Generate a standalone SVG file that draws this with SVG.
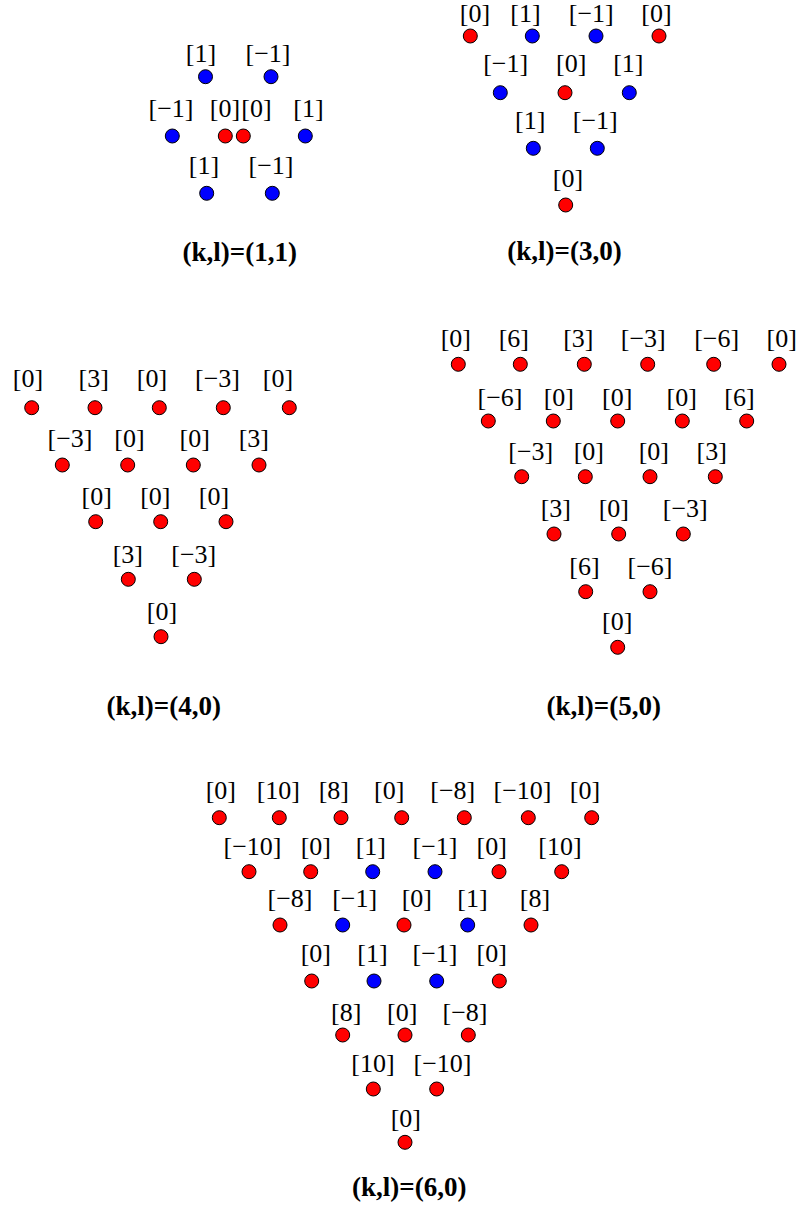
<svg xmlns="http://www.w3.org/2000/svg" width="799" height="1207" viewBox="0 0 799 1207">
<style>
text{font-family:"Liberation Serif","Times New Roman",serif;font-size:26px;text-anchor:middle;fill:#000}
.t{font-weight:bold;font-size:27px}
.r{fill:#ff0000;stroke:#000;stroke-width:1}
.b{fill:#0000ff;stroke:#000;stroke-width:1}
</style>
<rect width="799" height="1207" fill="#fff"/>
<g id="connectors"/>
<g id="panel-1-1">
<text x="201" y="62">[1]</text><text x="268" y="62">[−1]</text>
<circle class="b" cx="205.5" cy="76.7" r="7"/><circle class="b" cx="271" cy="76.7" r="7"/>
<text x="171" y="117">[−1]</text><text x="225" y="117">[0]</text><text x="256.5" y="117">[0]</text><text x="308.5" y="117">[1]</text>
<circle class="b" cx="172.3" cy="136" r="7"/><circle class="r" cx="225.3" cy="136" r="7"/><circle class="r" cx="243.3" cy="136" r="7"/><circle class="b" cx="305.3" cy="136" r="7"/>
<text x="204" y="174">[1]</text><text x="271" y="174">[−1]</text>
<circle class="b" cx="206.7" cy="193.3" r="7"/><circle class="b" cx="272.3" cy="193.3" r="7"/>
<text class="t" x="239.7" y="261">(k,l)=(1,1)</text>
</g>
<g id="panel-3-0">
<text x="475" y="22">[0]</text><text x="525.5" y="22">[1]</text><text x="591.3" y="22">[−1]</text><text x="656.5" y="22">[0]</text>
<circle class="r" cx="470.3" cy="36" r="7"/><circle class="b" cx="532.3" cy="36" r="7"/><circle class="b" cx="596" cy="36" r="7"/><circle class="r" cx="659" cy="36" r="7"/>
<text x="505.7" y="72">[−1]</text><text x="571.2" y="72">[0]</text><text x="628.3" y="72">[1]</text>
<circle class="b" cx="500.3" cy="92.7" r="7"/><circle class="r" cx="565" cy="92.7" r="7"/><circle class="b" cx="629.3" cy="92.7" r="7"/>
<text x="530.2" y="129">[1]</text><text x="595.3" y="129">[−1]</text>
<circle class="b" cx="533.3" cy="148.3" r="7"/><circle class="b" cx="597.3" cy="148.3" r="7"/>
<text x="568" y="187">[0]</text>
<circle class="r" cx="565.7" cy="205" r="7"/>
<text class="t" x="564.5" y="260">(k,l)=(3,0)</text>
</g>
<g id="panel-4-0">
<text x="28" y="387">[0]</text><text x="93.7" y="387">[3]</text><text x="152" y="387">[0]</text><text x="217.5" y="387">[−3]</text><text x="278" y="387">[0]</text>
<circle class="r" cx="31.7" cy="407.7" r="7"/><circle class="r" cx="95" cy="407.7" r="7"/><circle class="r" cx="159.3" cy="407.7" r="7"/><circle class="r" cx="223.3" cy="407.7" r="7"/><circle class="r" cx="289.3" cy="407.7" r="7"/>
<text x="70" y="447">[−3]</text><text x="129.5" y="447">[0]</text><text x="194.7" y="447">[0]</text><text x="253.8" y="447">[3]</text>
<circle class="r" cx="62.3" cy="465" r="7"/><circle class="r" cx="127.7" cy="465" r="7"/><circle class="r" cx="193.3" cy="465" r="7"/><circle class="r" cx="259" cy="465" r="7"/>
<text x="96.7" y="505">[0]</text><text x="155.3" y="505">[0]</text><text x="214" y="505">[0]</text>
<circle class="r" cx="95.7" cy="521.7" r="7"/><circle class="r" cx="160.7" cy="521.7" r="7"/><circle class="r" cx="226" cy="521.7" r="7"/>
<text x="127.8" y="563">[3]</text><text x="193.8" y="563">[−3]</text>
<circle class="r" cx="128.3" cy="579.3" r="7"/><circle class="r" cx="194.3" cy="579.3" r="7"/>
<text x="162" y="620">[0]</text>
<circle class="r" cx="161" cy="636.7" r="7"/>
<text class="t" x="163.7" y="715">(k,l)=(4,0)</text>
</g>
<g id="panel-5-0">
<text x="455.8" y="347">[0]</text><text x="513.8" y="347">[6]</text><text x="578.3" y="347">[3]</text><text x="643.3" y="347">[−3]</text><text x="716.7" y="347">[−6]</text><text x="781.7" y="347">[0]</text>
<circle class="r" cx="458.3" cy="364.3" r="7"/><circle class="r" cx="520.3" cy="364.3" r="7"/><circle class="r" cx="584.3" cy="364.3" r="7"/><circle class="r" cx="647.7" cy="364.3" r="7"/><circle class="r" cx="713.7" cy="364.3" r="7"/><circle class="r" cx="779" cy="364.3" r="7"/>
<text x="500" y="406">[−6]</text><text x="558.8" y="406">[0]</text><text x="617.2" y="406">[0]</text><text x="681.7" y="406">[0]</text><text x="739.5" y="406">[6]</text>
<circle class="r" cx="488.3" cy="421" r="7"/><circle class="r" cx="553.3" cy="421" r="7"/><circle class="r" cx="617.7" cy="421" r="7"/><circle class="r" cx="682.3" cy="421" r="7"/><circle class="r" cx="746.7" cy="421" r="7"/>
<text x="530.8" y="460">[−3]</text><text x="588.8" y="460">[0]</text><text x="653.8" y="460">[0]</text><text x="711.7" y="460">[3]</text>
<circle class="r" cx="521.7" cy="476.7" r="7"/><circle class="r" cx="585.3" cy="476.7" r="7"/><circle class="r" cx="650" cy="476.7" r="7"/><circle class="r" cx="715.3" cy="476.7" r="7"/>
<text x="555.8" y="517">[3]</text><text x="613.8" y="517">[0]</text><text x="685.3" y="517">[−3]</text>
<circle class="r" cx="554" cy="534" r="7"/><circle class="r" cx="618.7" cy="534" r="7"/><circle class="r" cx="683.3" cy="534" r="7"/>
<text x="584.5" y="575">[6]</text><text x="650" y="575">[−6]</text>
<circle class="r" cx="585.7" cy="591.7" r="7"/><circle class="r" cx="650" cy="591.7" r="7"/>
<text x="617.2" y="630">[0]</text>
<circle class="r" cx="617.7" cy="647.3" r="7"/>
<text class="t" x="603.7" y="715">(k,l)=(5,0)</text>
</g>
<g id="panel-6-0">
<text x="220.8" y="799">[0]</text><text x="278.3" y="799">[10]</text><text x="333.8" y="799">[8]</text><text x="389.2" y="799">[0]</text><text x="452.8" y="799">[−8]</text><text x="522.5" y="799">[−10]</text><text x="585" y="799">[0]</text>
<circle class="r" cx="219.3" cy="817.7" r="7"/><circle class="r" cx="279.3" cy="817.7" r="7"/><circle class="r" cx="341" cy="817.7" r="7"/><circle class="r" cx="401.7" cy="817.7" r="7"/><circle class="r" cx="464.3" cy="817.7" r="7"/><circle class="r" cx="528.3" cy="817.7" r="7"/><circle class="r" cx="591.7" cy="817.7" r="7"/>
<text x="252.5" y="855">[−10]</text><text x="315.8" y="855">[0]</text><text x="370.8" y="855">[1]</text><text x="435" y="855">[−1]</text><text x="491.7" y="855">[0]</text><text x="560" y="855">[10]</text>
<circle class="r" cx="249" cy="871.7" r="7"/><circle class="r" cx="310.7" cy="871.7" r="7"/><circle class="b" cx="372.7" cy="871.7" r="7"/><circle class="b" cx="435" cy="871.7" r="7"/><circle class="r" cx="499" cy="871.7" r="7"/><circle class="r" cx="561.7" cy="871.7" r="7"/>
<text x="290" y="907">[−8]</text><text x="354.7" y="907">[−1]</text><text x="416.8" y="907">[0]</text><text x="472.5" y="907">[1]</text><text x="535" y="907">[8]</text>
<circle class="r" cx="280" cy="925" r="7"/><circle class="b" cx="342.7" cy="925" r="7"/><circle class="r" cx="404" cy="925" r="7"/><circle class="b" cx="467.7" cy="925" r="7"/><circle class="r" cx="531" cy="925" r="7"/>
<text x="315.8" y="962">[0]</text><text x="372.5" y="962">[1]</text><text x="435" y="962">[−1]</text><text x="491.7" y="962">[0]</text>
<circle class="r" cx="311.7" cy="981" r="7"/><circle class="b" cx="374" cy="981" r="7"/><circle class="b" cx="436.7" cy="981" r="7"/><circle class="r" cx="499.3" cy="981" r="7"/>
<text x="346.2" y="1021">[8]</text><text x="402.2" y="1021">[0]</text><text x="465" y="1021">[−8]</text>
<circle class="r" cx="342.7" cy="1035" r="7"/><circle class="r" cx="405" cy="1035" r="7"/><circle class="r" cx="468.3" cy="1035" r="7"/>
<text x="373" y="1072">[10]</text><text x="442.5" y="1072">[−10]</text>
<circle class="r" cx="373.3" cy="1089" r="7"/><circle class="r" cx="436.7" cy="1089" r="7"/>
<text x="405.8" y="1127">[0]</text>
<circle class="r" cx="405" cy="1142.3" r="7"/>
<text class="t" x="409.2" y="1196">(k,l)=(6,0)</text>
</g>
</svg>
